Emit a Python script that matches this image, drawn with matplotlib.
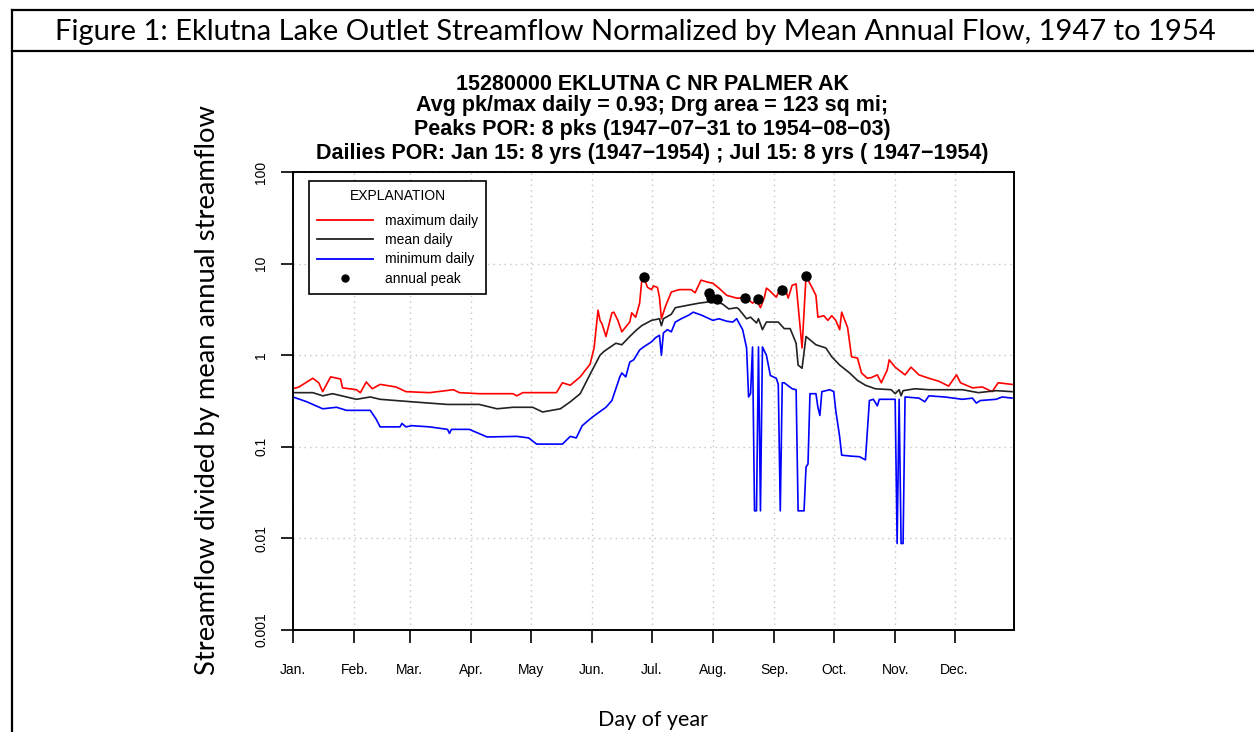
import matplotlib
matplotlib.use("Agg")
import matplotlib.pyplot as plt
from matplotlib.lines import Line2D
from matplotlib.ticker import NullLocator

plt.rcParams['font.family'] = ['Liberation Sans', 'DejaVu Sans']

# daily maximum / mean / minimum, as day of year and value
max_days = [1, 4, 11, 14, 16, 20, 25, 26, 33, 35, 38, 41, 45, 53, 58, 70, 82, 85, 95, 112,
            114, 117, 134, 137, 141, 146, 151, 153, 155, 156, 157, 159, 162, 163, 165, 167, 171, 172, 174, 176,
            177, 178, 180, 182, 183, 185, 186, 187, 189, 192, 196, 202, 204, 207, 210, 213, 216, 220, 225, 230,
            233, 235, 237, 239, 240, 241, 245, 246, 248, 250, 251, 253, 255, 258, 260, 263, 265, 266, 269, 271,
            273, 275, 277, 278, 281, 283, 286, 288, 291, 293, 296, 298, 301, 302, 305, 310, 313, 317, 322, 327,
            332, 336, 338, 344, 349, 354, 357, 364]
max_vals = [0.43, 0.45, 0.56, 0.50, 0.40, 0.58, 0.55, 0.44, 0.42, 0.39, 0.51, 0.43, 0.48, 0.45, 0.40, 0.39, 0.42, 0.39, 0.38, 0.38,
            0.36, 0.39, 0.39, 0.50, 0.47, 0.58, 0.80, 1.2, 3.1, 2.4, 2.2, 1.6, 2.9, 2.95, 2.4, 1.8, 2.3, 2.9, 2.6, 3.7,
            6.3, 7.1, 5.5, 5.2, 5.7, 5.5, 4.3, 2.5, 3.4, 4.9, 5.2, 5.2, 4.8, 6.6, 6.3, 6.1, 5.4, 4.5, 4.2, 4.2,
            3.7, 4.0, 3.3, 4.3, 5.4, 5.2, 4.3, 4.8, 5.2, 4.9, 4.2, 5.8, 6.0, 1.2, 7.3, 5.5, 4.5, 2.6, 2.7, 2.4,
            2.7, 2.4, 1.9, 2.95, 2.0, 0.96, 0.93, 0.64, 0.56, 0.57, 0.61, 0.50, 0.69, 0.89, 0.74, 0.61, 0.74, 0.61, 0.56, 0.52,
            0.46, 0.61, 0.50, 0.44, 0.45, 0.40, 0.50, 0.48]

mean_days = [1, 11, 16, 21, 33, 40, 45, 61, 79, 95, 104, 112, 122, 127, 136, 141, 146, 151, 156, 158,
             161, 164, 167, 171, 174, 177, 182, 186, 187, 188, 192, 194, 200, 206, 210, 213, 218, 221, 225, 226,
             230, 232, 235, 236, 238, 240, 246, 249, 252, 255, 256, 258, 260, 265, 270, 273, 277, 282, 286, 290,
             295, 303, 305, 307, 308, 309, 315, 322, 331, 339, 347, 356, 364]
mean_vals = [0.39, 0.39, 0.36, 0.38, 0.33, 0.35, 0.33, 0.31, 0.29, 0.29, 0.26, 0.27, 0.27, 0.24, 0.26, 0.31, 0.38, 0.62, 1.0, 1.1,
             1.22, 1.35, 1.3, 1.6, 1.85, 2.1, 2.4, 2.5, 2.1, 2.5, 2.8, 3.3, 3.5, 3.7, 3.8, 4.0, 3.6, 3.2, 3.3, 3.2,
             2.5, 2.6, 2.25, 2.5, 1.9, 2.3, 2.3, 1.95, 1.95, 1.35, 0.78, 0.72, 1.6, 1.3, 1.2, 0.96, 0.78, 0.64, 0.53, 0.47,
             0.43, 0.42, 0.38, 0.42, 0.36, 0.41, 0.43, 0.42, 0.42, 0.42, 0.39, 0.41, 0.40]

min_days = [1, 8, 16, 23, 28, 40, 43, 45, 55, 56, 58, 61, 70, 79, 80, 81, 90, 99, 114, 120,
            124, 137, 141, 144, 147, 152, 159, 162, 166, 167, 169, 171, 173, 176, 178, 182, 184, 186, 187, 188,
            190, 192, 194, 197, 201, 203, 207, 213, 216, 220, 223, 225, 228, 230, 231, 232, 233, 234, 235, 236,
            237, 238, 240, 242, 245, 246, 247, 248, 249, 253, 255, 256, 259, 260, 261, 262, 265, 266, 267, 268,
            272, 274, 275, 277, 278, 283, 287, 290, 292, 294, 296, 297, 305, 306, 307, 308, 309, 310, 317, 320,
            322, 330, 339, 344, 346, 348, 356, 359, 364]
min_vals = [0.35, 0.31, 0.26, 0.27, 0.25, 0.25, 0.20, 0.165, 0.165, 0.18, 0.165, 0.17, 0.165, 0.155, 0.14, 0.155, 0.155, 0.128, 0.13, 0.125,
            0.107, 0.107, 0.13, 0.125, 0.17, 0.21, 0.27, 0.32, 0.58, 0.64, 0.58, 0.84, 0.89, 1.14, 1.23, 1.4, 1.55, 1.65, 1.0, 1.75,
            1.9, 1.8, 2.3, 2.5, 2.75, 2.95, 2.75, 2.4, 2.5, 2.35, 2.3, 2.5, 1.9, 1.2, 0.35, 0.38, 1.23, 0.02, 0.02, 1.23,
            0.02, 1.23, 1.0, 0.6, 0.56, 0.48, 0.02, 0.50, 0.50, 0.43, 0.42, 0.02, 0.02, 0.06, 0.065, 0.38, 0.38, 0.27, 0.22, 0.40,
            0.42, 0.40, 0.25, 0.128, 0.081, 0.079, 0.078, 0.072, 0.32, 0.33, 0.28, 0.33, 0.33, 0.0088, 0.33, 0.0088, 0.0088, 0.35, 0.34, 0.31,
            0.36, 0.35, 0.33, 0.34, 0.30, 0.32, 0.33, 0.35, 0.34]

# annual peaks
peak_days = [178, 211, 212, 215, 229, 236, 248, 260]
peak_vals = [7.1, 4.8, 4.2, 4.1, 4.2, 4.1, 5.2, 7.3]

month_starts = [1, 32, 60, 91, 121, 152, 182, 213, 244, 274, 305, 335]
month_labels = ["Jan.", "Feb.", "Mar.", "Apr.", "May", "Jun.", "Jul.", "Aug.", "Sep.", "Oct.", "Nov.", "Dec."]
y_ticks = [0.001, 0.01, 0.1, 1, 10, 100]
y_labels = ["0.001", "0.01", "0.1", "1", "10", "100"]

title_lines = ["15280000 EKLUTNA C NR PALMER AK",
               "Avg pk/max daily = 0.93; Drg area = 123 sq mi;",
               "Peaks POR: 8 pks (1947\u221207\u221231 to 1954\u221208\u221203)",
               "Dailies POR: Jan 15: 8 yrs (1947\u22121954) ; Jul 15: 8 yrs ( 1947\u22121954)"]

W, H = 1254, 732
fig = plt.figure(figsize=(W / 100, H / 100), dpi=100)
ax = fig.add_axes([293 / W, 1 - 630 / H, (1014 - 293) / W, (630 - 172) / H])

ax.plot(max_days, max_vals, color='red', lw=1.2)
ax.plot(mean_days, mean_vals, color='#222222', lw=1.2)
ax.plot(min_days, min_vals, color='blue', lw=1.2)
ax.plot(peak_days, peak_vals, 'o', color='black', markersize=6.5)

ax.set_yscale('log')
ax.set_ylim(0.001, 100)
ax.set_xlim(1, 365)
ax.yaxis.set_minor_locator(NullLocator())
ax.set_yticks(y_ticks)
ax.set_yticklabels(y_labels, rotation=90, va='center')
ax.set_xticks(month_starts)
ax.set_xticklabels(month_labels)
ax.tick_params(direction='out', length=9, width=1.2, labelsize=10)
ax.tick_params(axis='x', pad=15)
ax.tick_params(axis='y', pad=9)
for s in ax.spines.values():
    s.set_linewidth(1.4)
ax.grid(True, linestyle=(0, (1, 3)), color='#c4c4c4', lw=1)

handles = [Line2D([], [], color='red', lw=1.3),
           Line2D([], [], color='#222222', lw=1.3),
           Line2D([], [], color='blue', lw=1.3),
           Line2D([], [], ls='none', marker='o', color='black', markersize=5)]
labels = ["maximum daily", "mean daily", "minimum daily", "annual peak"]
leg = ax.legend(handles, labels, title="EXPLANATION", loc='upper left',
                bbox_to_anchor=(0.022, 0.980), fontsize=10, title_fontsize=10,
                fancybox=False, edgecolor='black', framealpha=1, handlelength=4.0,
                handletextpad=0.85, labelspacing=0.37, borderpad=0.6, borderaxespad=0)
leg.get_frame().set_linewidth(1.2)
leg._legend_box.sep = 7.7  # wider gap under the legend title

# R plot titles
for y, line in zip([84, 106, 130, 154], title_lines):
    fig.text(652 / W, 1 - y / H, line, ha='center', va='center', fontweight='bold', fontsize=15.5)

# document table frame
for xs, ys in [([12, W], [10, 10]), ([12, W], [51, 51]), ([12, 12], [10, H])]:
    fig.add_artist(Line2D([x / W for x in xs], [1 - y / H for y in ys],
                          transform=fig.transFigure, color='black', lw=1.6))

renderer = fig.canvas.get_renderer()


def fit(t, size, vertical=False):
    bb = t.get_window_extent(renderer)
    cur = bb.height if vertical else bb.width
    t.set_fontsize(t.get_fontsize() * size / cur)


cap = fig.text(635 / W, 1 - 40 / H,
               "Figure 1: Eklutna Lake Outlet Streamflow Normalized by Mean Annual Flow, 1947 to 1954",
               ha='center', va='baseline', fontsize=20, family='Lato')
fit(cap, 1163)
ylab = fig.text(208 / W, 1 - 390 / H, "Streamflow divided by mean annual streamflow",
                ha='center', va='center', rotation=90, fontsize=18, family='Lato')
fit(ylab, 571, vertical=True)
xlab = fig.text(653 / W, 1 - 720 / H, "Day of year", ha='center', va='center', fontsize=15, family='Lato')
fit(xlab, 110)

fig.savefig("out.png", dpi=100)
